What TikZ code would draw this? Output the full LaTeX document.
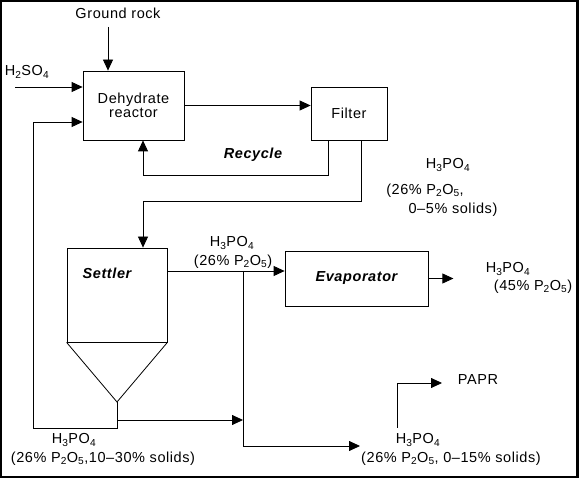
\documentclass[tikz,border=0pt]{standalone}
\usepackage{fontspec}
\setmainfont{Liberation Sans}[LetterSpace=4]
\usetikzlibrary{positioning,arrows.meta}
\newcommand{\hpo}{H\textsubscript{3}PO\textsubscript{4}}
\newcommand{\pto}{P\textsubscript{2}O\textsubscript{5}}

\begin{document}
\begin{tikzpicture}[
    x=1pt, y=-1pt,
    every node/.style={font=\fontsize{14.5}{14}\selectfont, inner sep=0pt},
    unit/.style={draw, line width=0.8pt, inner sep=0pt},
    tag/.style={font=\fontsize{14.5}{14}\selectfont\bfseries\itshape},
    flow/.style={-{Triangle[length=11pt,width=10pt]}, line width=0.8pt},
    pipe/.style={line width=0.8pt}
]
    \useasboundingbox (0,0) rectangle (579,478);
    \draw[line width=2.4pt] (1.2,1.2) rectangle (577.6,476.8);

    % Units
    \node[unit, minimum width=101pt, minimum height=69pt, align=center] (reactor) at (133.5,105.5) {Dehydrate\\reactor};
    \node[unit, minimum width=76pt, minimum height=53pt] (filter) at (349,113.5) {Filter};
    \node[unit, minimum width=100pt, minimum height=94pt] (settler) at (117,295) {};
    \node[unit, tag, minimum width=143pt, minimum height=55pt] (evap) at (356.5,278.5) {Evaporator};
    \coordinate (tip) at (117,402);
    \draw[pipe] (settler.south west) -- (tip) -- (settler.south east);

    % Names
    \node (rock) at (118,13) {Ground rock};
    \node (acid) at (27,72) {H\textsubscript{2}SO\textsubscript{4}};
    \node[tag] (rcyname) at (253,155) {Recycle};
    \node[tag] (sname) at (107,273) {Settler};

    % Stream labels
    \node (fhpo) at (448,165) {\hpo};
    \node (fpto) at (425,191) {(26\% \pto,};
    \node (fsol) at (453,210) {0--5\% solids)};
    \node (shpo) at (232,243) {\hpo};
    \node (spto) at (233,262) {(26\% \pto)};
    \node (ehpo) at (508,269) {\hpo};
    \node (epto) at (533,287) {(45\% \pto)};
    \node (papr) at (478,380) {PAPR};
    \node (bhpo) at (418,440) {\hpo};
    \node (bpto) at (451,459) {(26\% \pto, 0--15\% solids)};
    \node (uhpo) at (74,440) {\hpo};
    \node (upto) at (103,459) {(26\% \pto,10--30\% solids)};

    % Feeds
    \coordinate (rockin) at (108,27);
    \coordinate (acidin) at (15,87);
    \draw[flow] (rockin) -- (rockin |- reactor.north);
    \draw[flow] (acidin) -- (acidin -| reactor.west);
    \draw[flow] (reactor.east) -- (reactor.east -| filter.west);

    % Recycle and filtrate
    \draw[flow] ([xshift=-21pt]filter.south) -- ++(0,35) -| ([xshift=9.5pt]reactor.south);
    \draw[flow] ([xshift=12pt]filter.south) -- ++(0,61) -| ([xshift=26pt]settler.north);

    % Settler outlets
    \coordinate (branch) at (243,271);
    \coordinate (bleed) at (360,446);
    \coordinate (ret) at (33,428);
    \coordinate (under) at (117,420);
    \coordinate (paprin) at (397,428);
    \coordinate (paprto) at (442,383);
    \draw[flow] (settler.east |- branch) -- (branch -| evap.west);
    \draw[flow] (evap.east) -- ++(25,0);
    \draw[flow] (branch) |- (bleed);
    \draw[flow] (tip) |- (ret) |- ([yshift=-16.5pt]reactor.west);
    \draw[flow] (under) -- (under -| branch);
    \draw[flow] (paprin) |- (paprto);
\end{tikzpicture}
\end{document}
